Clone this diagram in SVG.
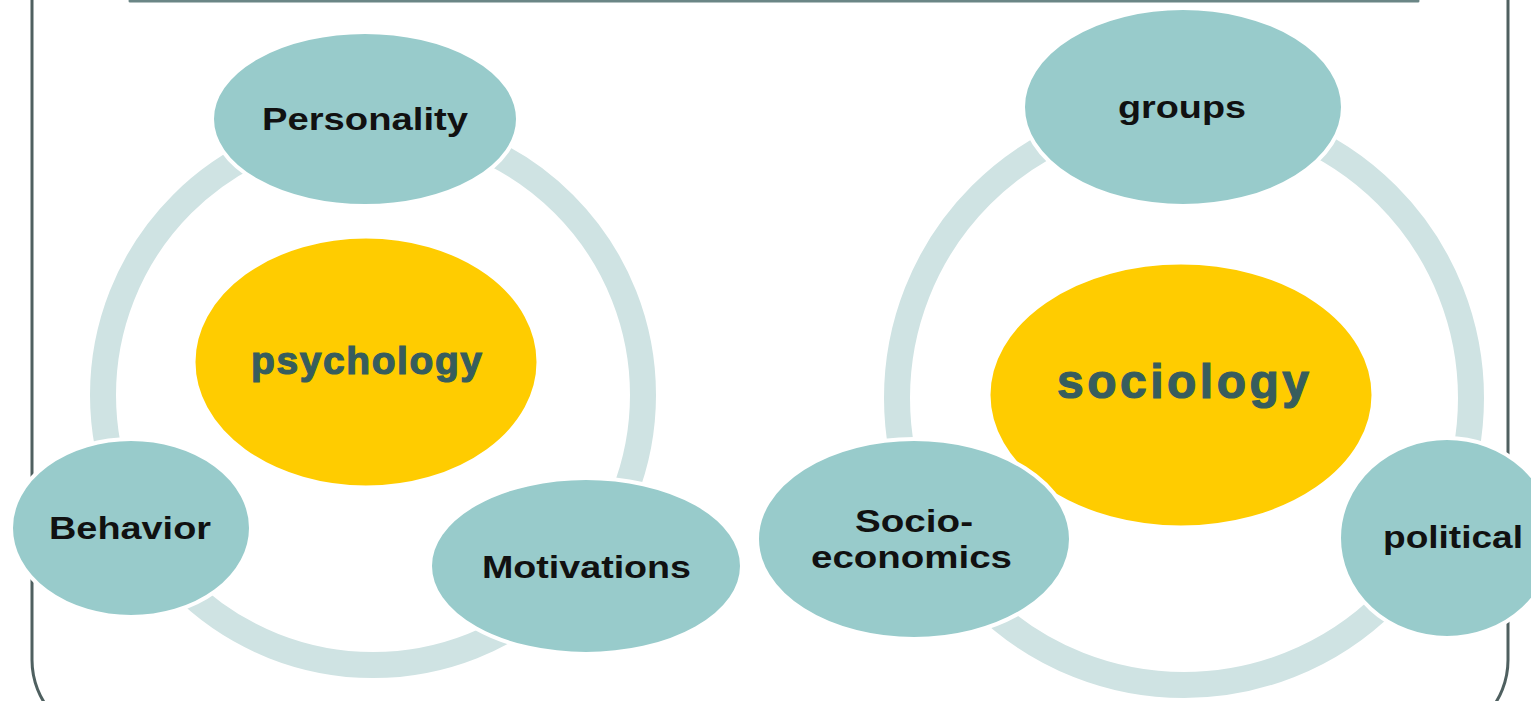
<svg xmlns="http://www.w3.org/2000/svg" width="1531" height="701" viewBox="0 0 1531 701">
<style>
.ring{fill:none;stroke:#cfe3e3;stroke-width:26}
.node{fill:#98cbcb;stroke:#ffffff;stroke-width:4}
.core{fill:#ffcc00;stroke:#ffffff;stroke-width:3}
.lbl{font-family:"Liberation Sans",Arial,sans-serif;font-weight:bold;font-size:31px;fill:#111}
.clbl{font-family:"Liberation Sans",Arial,sans-serif;font-weight:bold;fill:#375d5d;stroke:#375d5d;stroke-width:1.2}
</style>
<rect x="0" y="0" width="1531" height="701" fill="#ffffff"/>
<g id="frame">
<path d="M32,-20 L32,660 A80,80 0 0 0 112,740 L1428,740 A80,80 0 0 0 1508,660 L1508,-20" fill="none" stroke="#4f6060" stroke-width="3"/>
<line x1="130" y1="1" x2="1418" y2="1" stroke="#6b8686" stroke-width="3" stroke-linecap="round"/>
</g>
<g id="connectors">
<circle class="ring" cx="373" cy="395" r="270"/>
<circle class="ring" cx="1184" cy="398" r="287"/>
</g>
<g id="psychology">
<ellipse class="core" cx="366" cy="362" rx="172" ry="125"/>
<text class="clbl" x="251" y="374" font-size="39" textLength="231" lengthAdjust="spacing">psychology</text>
</g>
<g id="personality">
<ellipse class="node" cx="365" cy="119" rx="153" ry="87"/>
<text class="lbl" x="262" y="130" textLength="206" lengthAdjust="spacingAndGlyphs">Personality</text>
</g>
<g id="behavior">
<ellipse class="node" cx="131" cy="528" rx="120" ry="89"/>
<text class="lbl" x="49" y="539" textLength="162" lengthAdjust="spacingAndGlyphs">Behavior</text>
</g>
<g id="motivations">
<ellipse class="node" cx="586" cy="566" rx="156" ry="88"/>
<text class="lbl" x="482" y="578" textLength="209" lengthAdjust="spacingAndGlyphs">Motivations</text>
</g>
<g id="sociology">
<ellipse class="core" cx="1181" cy="395" rx="192" ry="132"/>
<text class="clbl" x="1057" y="398" font-size="48" textLength="252" lengthAdjust="spacing">sociology</text>
</g>
<g id="groups">
<ellipse class="node" cx="1183" cy="107" rx="160" ry="99"/>
<text class="lbl" x="1118" y="118" textLength="128" lengthAdjust="spacingAndGlyphs">groups</text>
</g>
<g id="socio-economics">
<ellipse class="node" cx="914" cy="539" rx="157" ry="100"/>
<text class="lbl" x="855" y="532" textLength="118" lengthAdjust="spacingAndGlyphs">Socio-</text>
<text class="lbl" x="811" y="568" textLength="201" lengthAdjust="spacingAndGlyphs">economics</text>
</g>
<g id="political">
<ellipse class="node" cx="1447" cy="538" rx="108" ry="100"/>
<text class="lbl" x="1383" y="548" textLength="140" lengthAdjust="spacingAndGlyphs">political</text>
</g>
</svg>
